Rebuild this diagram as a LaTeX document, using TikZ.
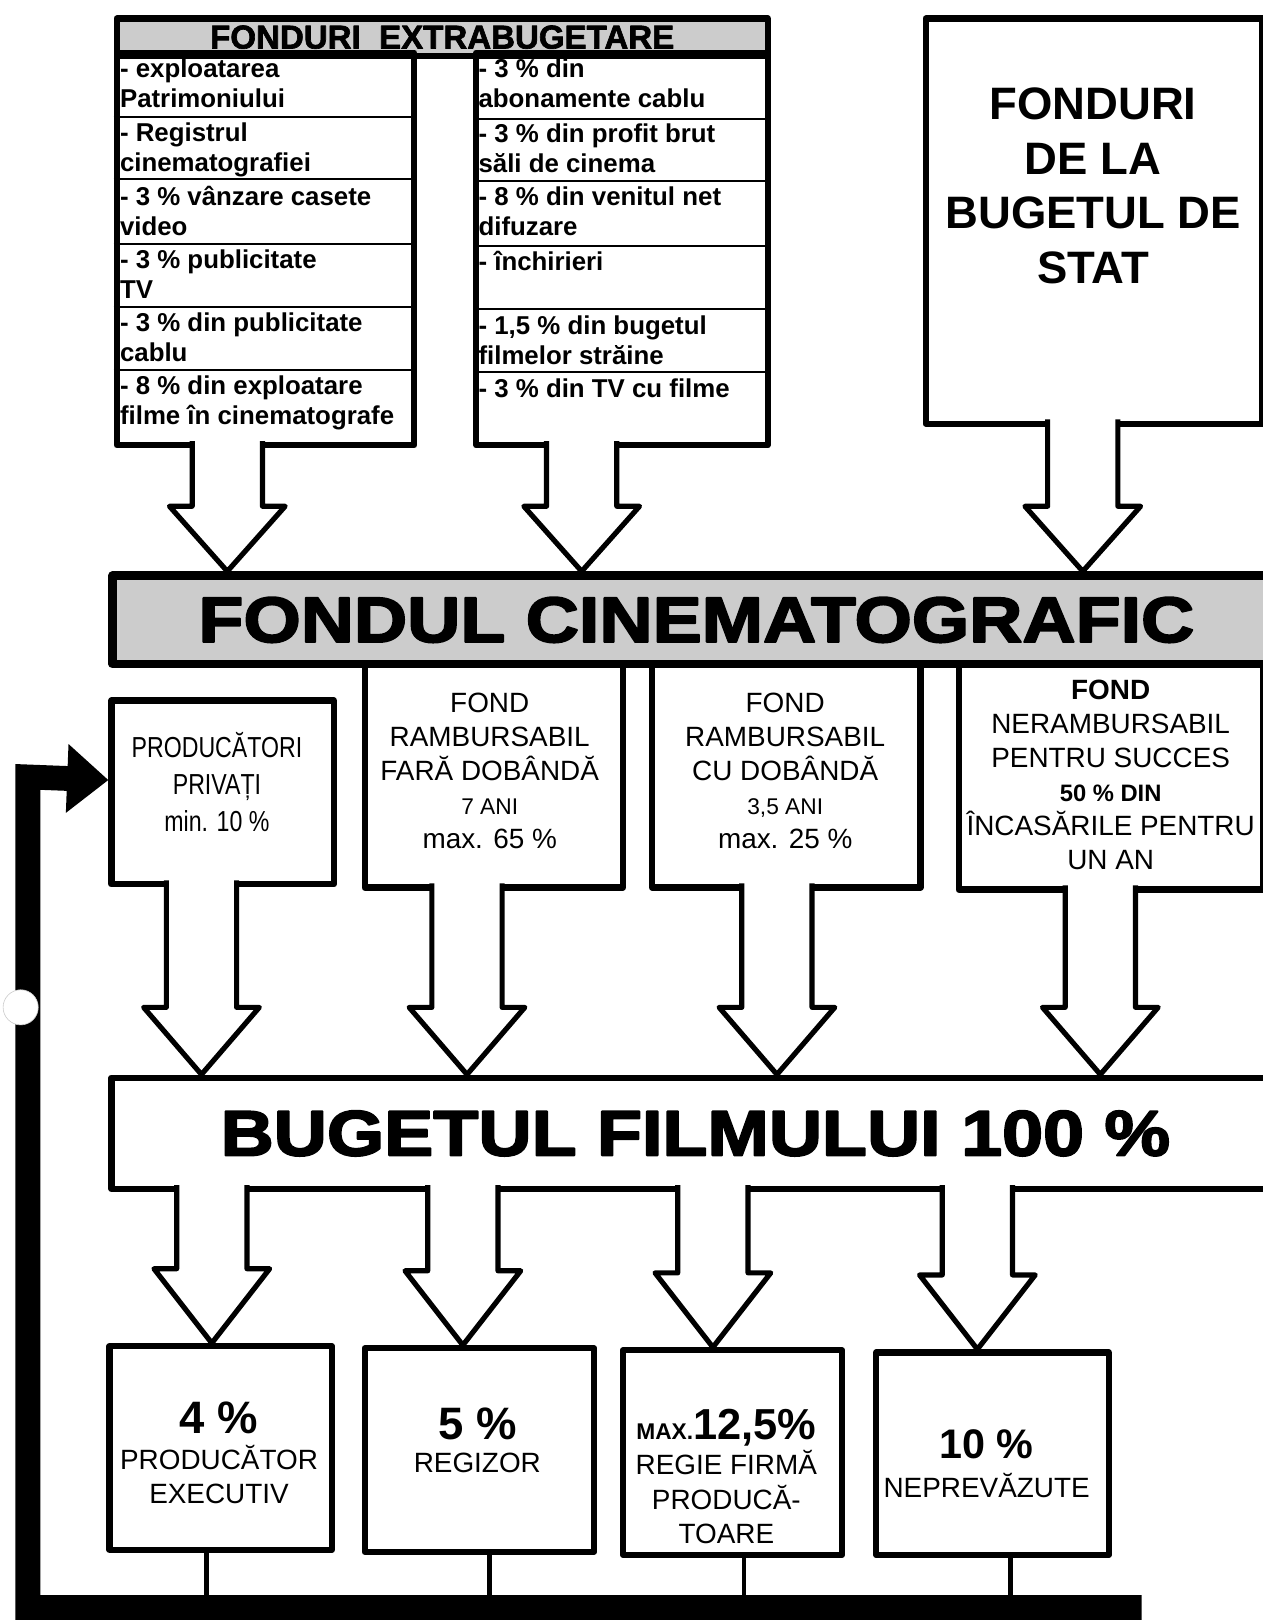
\documentclass[tikz,border=0pt]{standalone}
\usepackage{fontspec}
\setmainfont{Liberation Sans}
\newfontfamily\narrowsans[FakeStretch=0.8]{Liberation Sans}
\newfontfamily\heavysans[FakeStretch=1.15,FakeBold=3]{Liberation Sans}
\newfontfamily\boldsans[FakeBold=2]{Liberation Sans}
\usetikzlibrary{arrows.meta}

\tikzset{
  box/.style={draw, line width=6pt, anchor=north west, inner sep=0pt},
  fat/.style={draw, fill=white, line width=5pt, line join=round},
  row/.style={anchor=north west, inner sep=0pt, align=left,
    font=\fontsize{25}{29}\selectfont\bfseries},
  sep/.style={line width=1.5pt},
  fondtext/.style={align=center, font=\fontsize{27}{33}\selectfont},
  lowtext/.style={align=center, font=\fontsize{27}{33}\selectfont},
  bignum/.style={font=\fontsize{44}{44}\selectfont\bfseries},
  stem/.style={line width=4.5pt},
}

% block arrow: from node, to node, x of the arrow, head length
\newcommand{\fatarrow}[4]{%
  \coordinate (fa-s) at (#3,0 |- #1.south);
  \coordinate (fa-t) at (#3,0 |- #2.north);
  \draw[fat] ([shift={(-34pt,7pt)}]fa-s) -- ([shift={(-34pt,#4)}]fa-t)
    -- ([shift={(-56pt,#4)}]fa-t) -- (fa-t) -- ([shift={(56pt,#4)}]fa-t)
    -- ([shift={(34pt,#4)}]fa-t) -- ([shift={(34pt,7pt)}]fa-s);
}

\begin{document}
\begin{tikzpicture}[x=1pt, y=-1pt, line join=round]
  \useasboundingbox (0,0) rectangle (1222,1568);

  % fonduri extrabugetare
  \node[box, fill=gray!40, minimum width=630, minimum height=36] (hdr) at (110,15)
    {\boldsans\fontsize{32}{32}\selectfont\bfseries FONDURI\ \ EXTRABUGETARE};
  \node[box, minimum width=288, minimum height=380] (colL) at (110,48) {};
  \node[box, minimum width=282, minimum height=380] (colR) at (458,48) {};
  \foreach \y in {113,173,236,297,358} {
    \draw[sep] (110,\y) -- (404,\y);
    \draw[sep] (458,\y+2) -- (745,\y+2);
  }
  \node[row] (l1) at (116,57) {- exploatarea\\Patrimoniului};
  \node[row] (l2) at (116,119) {- Registrul\\cinematografiei};
  \node[row] (l3) at (116,180) {- 3 \% vânzare casete\\video};
  \node[row] (l4) at (116,242) {- 3 \% publicitate\\TV};
  \node[row] (l5) at (116,303) {- 3 \% din publicitate\\cablu};
  \node[row] (l6) at (116,364) {- 8 \% din exploatare\\filme în cinematografe};
  \node[row] (r1) at (463,57) {- 3 \% din\\abonamente cablu};
  \node[row] (r2) at (463,120) {- 3 \% din profit brut\\săli de cinema};
  \node[row] (r3) at (463,181) {- 8 \% din venitul net\\difuzare};
  \node[row] (r4) at (463,243) {- închirieri};
  \node[row] (r5) at (463,305) {- 1,5 \% din bugetul\\filmelor străine};
  \node[row] (r6) at (463,366) {- 3 \% din TV cu filme};

  % bugetul de stat
  \node[box, minimum width=326, minimum height=392] (state) at (893,15) {};
  \node[align=center, font=\fontsize{44}{53}\selectfont\bfseries] (statetext)
    at (1058,180) {FONDURI\\DE LA\\BUGETUL DE\\STAT};

  % fondul cinematografic and its four parts
  \node[box, minimum width=295, minimum height=222] (f3) at (925,636) {};
  \node[box, minimum width=260, minimum height=220] (f2) at (628,636) {};
  \node[box, minimum width=250, minimum height=220] (f1) at (350,636) {};
  \node[box, line width=8pt, fill=gray!40, minimum width=1130, minimum height=86] (band)
    at (105,553) {\heavysans\fontsize{62}{62}\selectfont\bfseries FONDUL CINEMATOGRAFIC};
  \node[box, minimum width=215, minimum height=178] (prod) at (105,675) {};

  \node[align=center, font=\narrowsans\fontsize{28}{36}\selectfont] (prodtext) at (210,757)
    {PRODUCĂTORI\\PRIVAȚI\\min. 10 \%};
  \node[fondtext] (f1text) at (474,746)
    {FOND\\RAMBURSABIL\\FARĂ DOBÂNDĂ\\{\fontsize{22}{33}\selectfont 7 ANI}\\max. 65 \%};
  \node[fondtext] (f2text) at (760,746)
    {FOND\\RAMBURSABIL\\CU DOBÂNDĂ\\{\fontsize{22}{33}\selectfont 3,5 ANI}\\max. 25 \%};
  \node[fondtext] (f3text) at (1075,750)
    {{\bfseries FOND}\\NERAMBURSABIL\\PENTRU SUCCES\\{\fontsize{23}{33}\selectfont\bfseries 50 \% DIN}\\ÎNCASĂRILE PENTRU\\UN AN};

  % bugetul filmului
  \node[box, minimum width=1130, minimum height=108] (budget) at (105,1040)
    {\heavysans\fontsize{62}{62}\selectfont\bfseries BUGETUL FILMULUI 100 \%};

  \node[box, minimum width=215, minimum height=197] (b4) at (103,1300) {};
  \node[box, minimum width=222, minimum height=197] (b5) at (350,1302) {};
  \node[box, minimum width=212, minimum height=198] (bmax) at (600,1304) {};
  \node[box, minimum width=225, minimum height=196] (b10) at (845,1306) {};

  \node[bignum] (n4) at (212,1372) {4 \%};
  \node[lowtext] (t4) at (212,1427) {PRODUCĂTOR\\EXECUTIV};
  \node[bignum] (n5) at (462,1378) {5 \%};
  \node[lowtext] (t5) at (462,1416) {REGIZOR};
  \node[font=\bfseries] (nmax) at (703,1382)
    {\fontsize{22}{22}\selectfont MAX.\fontsize{42}{42}\selectfont 12,5\%};
  \node[lowtext] (tmax) at (703,1449) {REGIE FIRMĂ\\PRODUCĂ-\\TOARE};
  \node[bignum, font=\fontsize{40}{40}\selectfont\bfseries] (n10) at (955,1398) {10 \%};
  \node[lowtext] (t10) at (955,1438) {NEPREVĂZUTE};

  % arrows
  \fatarrow{colL}{band}{220}{63pt}
  \fatarrow{colR}{band}{563}{63pt}
  \fatarrow{state}{band}{1048}{63pt}
  \fatarrow{prod}{budget}{195}{65pt}
  \fatarrow{f1}{budget}{452}{65pt}
  \fatarrow{f2}{budget}{752}{65pt}
  \fatarrow{f3}{budget}{1065}{65pt}
  \fatarrow{budget}{b4}{205}{72pt}
  \fatarrow{budget}{b5}{448}{72pt}
  \fatarrow{budget}{bmax}{690}{72pt}
  \fatarrow{budget}{b10}{946}{72pt}

  % back to the private producers
  \draw[stem] (200,0 |- b4.south) -- (200,1548);
  \draw[stem] (474,0 |- b5.south) -- (474,1548);
  \draw[stem] (720,0 |- bmax.south) -- (720,1548);
  \draw[stem] (978,0 |- b10.south) -- (978,1548);
  \draw[line width=24pt, line join=miter, -{Triangle[length=40pt,width=64pt]}]
    (1105,1556) -- (27,1556) -- (27,752) -- ([yshift=12pt]prod.west);
  \fill[white] (20,975) circle (17pt);
  \draw[gray!40, line width=0.6pt] (20,975) circle (17pt);
\end{tikzpicture}
\end{document}
